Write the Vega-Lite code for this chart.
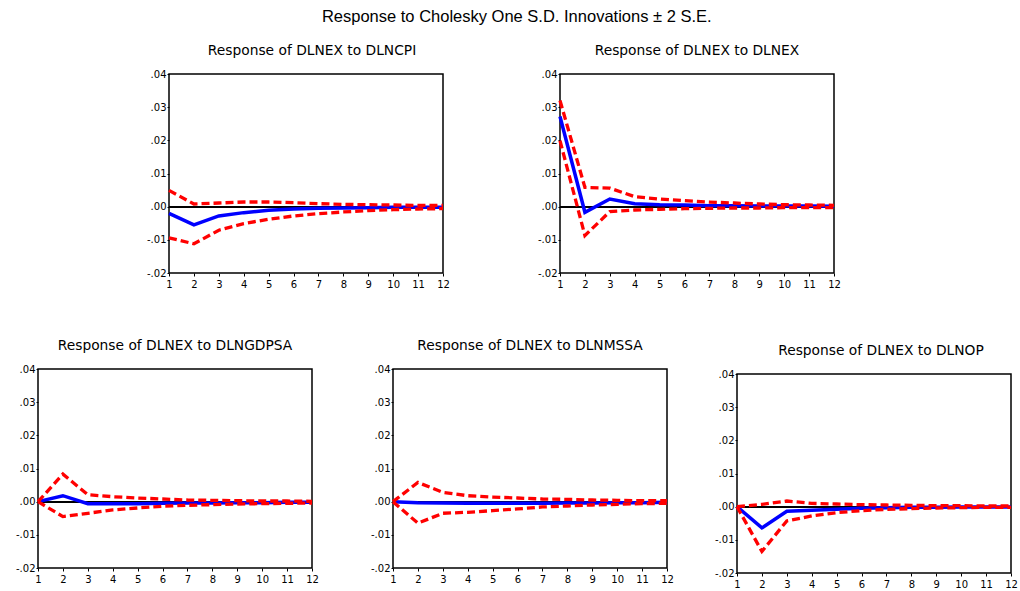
{
  "$schema": "https://vega.github.io/schema/vega-lite/v6.json",
  "background": "white",
  "padding": {"left": 14, "top": 8, "right": 5, "bottom": 5},
  "title": {"text": "Response to Cholesky One S.D. Innovations ± 2 S.E.", "font": "Liberation Sans", "fontSize": 16.5, "fontWeight": "normal", "color": "black", "anchor": "middle", "offset": 18},
  "config": {
    "font": "DejaVu Sans",
    "view": {"stroke": "black", "strokeWidth": 1.5},
    "title": {"font": "DejaVu Sans", "fontSize": 13.8, "fontWeight": "normal", "color": "black", "offset": 11},
    "axis": {"grid": false, "title": null, "labelFont": "DejaVu Sans", "labelFontSize": 10, "labelColor": "black", "tickColor": "black", "domain": false, "tickSize": 3, "labelOverlap": false, "labelFlush": false, "labelBound": false, "labelSeparation": 0}
  },
  "datasets": {
    "irf": [
      {"panel": "DLNCPI", "h": 1, "series": "resp", "value": -0.0020},
      {"panel": "DLNCPI", "h": 2, "series": "resp", "value": -0.0055},
      {"panel": "DLNCPI", "h": 3, "series": "resp", "value": -0.0028},
      {"panel": "DLNCPI", "h": 4, "series": "resp", "value": -0.0018},
      {"panel": "DLNCPI", "h": 5, "series": "resp", "value": -0.0011},
      {"panel": "DLNCPI", "h": 6, "series": "resp", "value": -0.0007},
      {"panel": "DLNCPI", "h": 7, "series": "resp", "value": -0.0005},
      {"panel": "DLNCPI", "h": 8, "series": "resp", "value": -0.0004},
      {"panel": "DLNCPI", "h": 9, "series": "resp", "value": -0.0003},
      {"panel": "DLNCPI", "h": 10, "series": "resp", "value": -0.0002},
      {"panel": "DLNCPI", "h": 11, "series": "resp", "value": -0.0002},
      {"panel": "DLNCPI", "h": 12, "series": "resp", "value": -0.0002},
      {"panel": "DLNCPI", "h": 1, "series": "upper", "value": 0.0049},
      {"panel": "DLNCPI", "h": 2, "series": "upper", "value": 0.0008},
      {"panel": "DLNCPI", "h": 3, "series": "upper", "value": 0.0011},
      {"panel": "DLNCPI", "h": 4, "series": "upper", "value": 0.0014},
      {"panel": "DLNCPI", "h": 5, "series": "upper", "value": 0.0014},
      {"panel": "DLNCPI", "h": 6, "series": "upper", "value": 0.0012},
      {"panel": "DLNCPI", "h": 7, "series": "upper", "value": 0.0009},
      {"panel": "DLNCPI", "h": 8, "series": "upper", "value": 0.0007},
      {"panel": "DLNCPI", "h": 9, "series": "upper", "value": 0.0006},
      {"panel": "DLNCPI", "h": 10, "series": "upper", "value": 0.0005},
      {"panel": "DLNCPI", "h": 11, "series": "upper", "value": 0.0004},
      {"panel": "DLNCPI", "h": 12, "series": "upper", "value": 0.0004},
      {"panel": "DLNCPI", "h": 1, "series": "lower", "value": -0.0094},
      {"panel": "DLNCPI", "h": 2, "series": "lower", "value": -0.0112},
      {"panel": "DLNCPI", "h": 3, "series": "lower", "value": -0.0071},
      {"panel": "DLNCPI", "h": 4, "series": "lower", "value": -0.0051},
      {"panel": "DLNCPI", "h": 5, "series": "lower", "value": -0.0038},
      {"panel": "DLNCPI", "h": 6, "series": "lower", "value": -0.0028},
      {"panel": "DLNCPI", "h": 7, "series": "lower", "value": -0.0021},
      {"panel": "DLNCPI", "h": 8, "series": "lower", "value": -0.0016},
      {"panel": "DLNCPI", "h": 9, "series": "lower", "value": -0.0012},
      {"panel": "DLNCPI", "h": 10, "series": "lower", "value": -0.0009},
      {"panel": "DLNCPI", "h": 11, "series": "lower", "value": -0.0007},
      {"panel": "DLNCPI", "h": 12, "series": "lower", "value": -0.0006},

      {"panel": "DLNEX", "h": 1, "series": "resp", "value": 0.0272},
      {"panel": "DLNEX", "h": 2, "series": "resp", "value": -0.0017},
      {"panel": "DLNEX", "h": 3, "series": "resp", "value": 0.0023},
      {"panel": "DLNEX", "h": 4, "series": "resp", "value": 0.0009},
      {"panel": "DLNEX", "h": 5, "series": "resp", "value": 0.0006},
      {"panel": "DLNEX", "h": 6, "series": "resp", "value": 0.0005},
      {"panel": "DLNEX", "h": 7, "series": "resp", "value": 0.0003},
      {"panel": "DLNEX", "h": 8, "series": "resp", "value": 0.0003},
      {"panel": "DLNEX", "h": 9, "series": "resp", "value": 0.0002},
      {"panel": "DLNEX", "h": 10, "series": "resp", "value": 0.0002},
      {"panel": "DLNEX", "h": 11, "series": "resp", "value": 0.0002},
      {"panel": "DLNEX", "h": 12, "series": "resp", "value": 0.0001},
      {"panel": "DLNEX", "h": 1, "series": "upper", "value": 0.0320},
      {"panel": "DLNEX", "h": 2, "series": "upper", "value": 0.0058},
      {"panel": "DLNEX", "h": 3, "series": "upper", "value": 0.0056},
      {"panel": "DLNEX", "h": 4, "series": "upper", "value": 0.0030},
      {"panel": "DLNEX", "h": 5, "series": "upper", "value": 0.0023},
      {"panel": "DLNEX", "h": 6, "series": "upper", "value": 0.0018},
      {"panel": "DLNEX", "h": 7, "series": "upper", "value": 0.0014},
      {"panel": "DLNEX", "h": 8, "series": "upper", "value": 0.0011},
      {"panel": "DLNEX", "h": 9, "series": "upper", "value": 0.0008},
      {"panel": "DLNEX", "h": 10, "series": "upper", "value": 0.0006},
      {"panel": "DLNEX", "h": 11, "series": "upper", "value": 0.0005},
      {"panel": "DLNEX", "h": 12, "series": "upper", "value": 0.0004},
      {"panel": "DLNEX", "h": 1, "series": "lower", "value": 0.0199},
      {"panel": "DLNEX", "h": 2, "series": "lower", "value": -0.0087},
      {"panel": "DLNEX", "h": 3, "series": "lower", "value": -0.0015},
      {"panel": "DLNEX", "h": 4, "series": "lower", "value": -0.0010},
      {"panel": "DLNEX", "h": 5, "series": "lower", "value": -0.0008},
      {"panel": "DLNEX", "h": 6, "series": "lower", "value": -0.0006},
      {"panel": "DLNEX", "h": 7, "series": "lower", "value": -0.0005},
      {"panel": "DLNEX", "h": 8, "series": "lower", "value": -0.0004},
      {"panel": "DLNEX", "h": 9, "series": "lower", "value": -0.0004},
      {"panel": "DLNEX", "h": 10, "series": "lower", "value": -0.0003},
      {"panel": "DLNEX", "h": 11, "series": "lower", "value": -0.0003},
      {"panel": "DLNEX", "h": 12, "series": "lower", "value": -0.0003},

      {"panel": "DLNGDPSA", "h": 1, "series": "resp", "value": 0.0},
      {"panel": "DLNGDPSA", "h": 2, "series": "resp", "value": 0.0018},
      {"panel": "DLNGDPSA", "h": 3, "series": "resp", "value": -0.0006},
      {"panel": "DLNGDPSA", "h": 4, "series": "resp", "value": -0.0006},
      {"panel": "DLNGDPSA", "h": 5, "series": "resp", "value": -0.0006},
      {"panel": "DLNGDPSA", "h": 6, "series": "resp", "value": -0.0005},
      {"panel": "DLNGDPSA", "h": 7, "series": "resp", "value": -0.0004},
      {"panel": "DLNGDPSA", "h": 8, "series": "resp", "value": -0.0004},
      {"panel": "DLNGDPSA", "h": 9, "series": "resp", "value": -0.0003},
      {"panel": "DLNGDPSA", "h": 10, "series": "resp", "value": -0.0003},
      {"panel": "DLNGDPSA", "h": 11, "series": "resp", "value": -0.0002},
      {"panel": "DLNGDPSA", "h": 12, "series": "resp", "value": -0.0002},
      {"panel": "DLNGDPSA", "h": 1, "series": "upper", "value": 0.0},
      {"panel": "DLNGDPSA", "h": 2, "series": "upper", "value": 0.0083},
      {"panel": "DLNGDPSA", "h": 3, "series": "upper", "value": 0.0021},
      {"panel": "DLNGDPSA", "h": 4, "series": "upper", "value": 0.0015},
      {"panel": "DLNGDPSA", "h": 5, "series": "upper", "value": 0.0011},
      {"panel": "DLNGDPSA", "h": 6, "series": "upper", "value": 0.0008},
      {"panel": "DLNGDPSA", "h": 7, "series": "upper", "value": 0.0005},
      {"panel": "DLNGDPSA", "h": 8, "series": "upper", "value": 0.0004},
      {"panel": "DLNGDPSA", "h": 9, "series": "upper", "value": 0.0003},
      {"panel": "DLNGDPSA", "h": 10, "series": "upper", "value": 0.0002},
      {"panel": "DLNGDPSA", "h": 11, "series": "upper", "value": 0.0002},
      {"panel": "DLNGDPSA", "h": 12, "series": "upper", "value": 0.0001},
      {"panel": "DLNGDPSA", "h": 1, "series": "lower", "value": 0.0},
      {"panel": "DLNGDPSA", "h": 2, "series": "lower", "value": -0.0045},
      {"panel": "DLNGDPSA", "h": 3, "series": "lower", "value": -0.0035},
      {"panel": "DLNGDPSA", "h": 4, "series": "lower", "value": -0.0025},
      {"panel": "DLNGDPSA", "h": 5, "series": "lower", "value": -0.0019},
      {"panel": "DLNGDPSA", "h": 6, "series": "lower", "value": -0.0014},
      {"panel": "DLNGDPSA", "h": 7, "series": "lower", "value": -0.0011},
      {"panel": "DLNGDPSA", "h": 8, "series": "lower", "value": -0.0009},
      {"panel": "DLNGDPSA", "h": 9, "series": "lower", "value": -0.0007},
      {"panel": "DLNGDPSA", "h": 10, "series": "lower", "value": -0.0006},
      {"panel": "DLNGDPSA", "h": 11, "series": "lower", "value": -0.0005},
      {"panel": "DLNGDPSA", "h": 12, "series": "lower", "value": -0.0004},

      {"panel": "DLNMSSA", "h": 1, "series": "resp", "value": 0.0},
      {"panel": "DLNMSSA", "h": 2, "series": "resp", "value": -0.0003},
      {"panel": "DLNMSSA", "h": 3, "series": "resp", "value": -0.0004},
      {"panel": "DLNMSSA", "h": 4, "series": "resp", "value": -0.0005},
      {"panel": "DLNMSSA", "h": 5, "series": "resp", "value": -0.0005},
      {"panel": "DLNMSSA", "h": 6, "series": "resp", "value": -0.0005},
      {"panel": "DLNMSSA", "h": 7, "series": "resp", "value": -0.0005},
      {"panel": "DLNMSSA", "h": 8, "series": "resp", "value": -0.0004},
      {"panel": "DLNMSSA", "h": 9, "series": "resp", "value": -0.0004},
      {"panel": "DLNMSSA", "h": 10, "series": "resp", "value": -0.0003},
      {"panel": "DLNMSSA", "h": 11, "series": "resp", "value": -0.0003},
      {"panel": "DLNMSSA", "h": 12, "series": "resp", "value": -0.0002},
      {"panel": "DLNMSSA", "h": 1, "series": "upper", "value": 0.0},
      {"panel": "DLNMSSA", "h": 2, "series": "upper", "value": 0.0058},
      {"panel": "DLNMSSA", "h": 3, "series": "upper", "value": 0.0028},
      {"panel": "DLNMSSA", "h": 4, "series": "upper", "value": 0.0018},
      {"panel": "DLNMSSA", "h": 5, "series": "upper", "value": 0.0014},
      {"panel": "DLNMSSA", "h": 6, "series": "upper", "value": 0.0011},
      {"panel": "DLNMSSA", "h": 7, "series": "upper", "value": 0.0008},
      {"panel": "DLNMSSA", "h": 8, "series": "upper", "value": 0.0007},
      {"panel": "DLNMSSA", "h": 9, "series": "upper", "value": 0.0005},
      {"panel": "DLNMSSA", "h": 10, "series": "upper", "value": 0.0004},
      {"panel": "DLNMSSA", "h": 11, "series": "upper", "value": 0.0003},
      {"panel": "DLNMSSA", "h": 12, "series": "upper", "value": 0.0003},
      {"panel": "DLNMSSA", "h": 1, "series": "lower", "value": 0.0},
      {"panel": "DLNMSSA", "h": 2, "series": "lower", "value": -0.0065},
      {"panel": "DLNMSSA", "h": 3, "series": "lower", "value": -0.0035},
      {"panel": "DLNMSSA", "h": 4, "series": "lower", "value": -0.0032},
      {"panel": "DLNMSSA", "h": 5, "series": "lower", "value": -0.0027},
      {"panel": "DLNMSSA", "h": 6, "series": "lower", "value": -0.0022},
      {"panel": "DLNMSSA", "h": 7, "series": "lower", "value": -0.0016},
      {"panel": "DLNMSSA", "h": 8, "series": "lower", "value": -0.0013},
      {"panel": "DLNMSSA", "h": 9, "series": "lower", "value": -0.0010},
      {"panel": "DLNMSSA", "h": 10, "series": "lower", "value": -0.0008},
      {"panel": "DLNMSSA", "h": 11, "series": "lower", "value": -0.0006},
      {"panel": "DLNMSSA", "h": 12, "series": "lower", "value": -0.0005},

      {"panel": "DLNOP", "h": 1, "series": "resp", "value": 0.0},
      {"panel": "DLNOP", "h": 2, "series": "resp", "value": -0.0064},
      {"panel": "DLNOP", "h": 3, "series": "resp", "value": -0.0014},
      {"panel": "DLNOP", "h": 4, "series": "resp", "value": -0.0011},
      {"panel": "DLNOP", "h": 5, "series": "resp", "value": -0.0008},
      {"panel": "DLNOP", "h": 6, "series": "resp", "value": -0.0005},
      {"panel": "DLNOP", "h": 7, "series": "resp", "value": -0.0003},
      {"panel": "DLNOP", "h": 8, "series": "resp", "value": -0.0002},
      {"panel": "DLNOP", "h": 9, "series": "resp", "value": -0.0002},
      {"panel": "DLNOP", "h": 10, "series": "resp", "value": -0.0001},
      {"panel": "DLNOP", "h": 11, "series": "resp", "value": -0.0001},
      {"panel": "DLNOP", "h": 12, "series": "resp", "value": -0.0001},
      {"panel": "DLNOP", "h": 1, "series": "upper", "value": 0.0},
      {"panel": "DLNOP", "h": 2, "series": "upper", "value": 0.0007},
      {"panel": "DLNOP", "h": 3, "series": "upper", "value": 0.0017},
      {"panel": "DLNOP", "h": 4, "series": "upper", "value": 0.0010},
      {"panel": "DLNOP", "h": 5, "series": "upper", "value": 0.0008},
      {"panel": "DLNOP", "h": 6, "series": "upper", "value": 0.0006},
      {"panel": "DLNOP", "h": 7, "series": "upper", "value": 0.0005},
      {"panel": "DLNOP", "h": 8, "series": "upper", "value": 0.0004},
      {"panel": "DLNOP", "h": 9, "series": "upper", "value": 0.0003},
      {"panel": "DLNOP", "h": 10, "series": "upper", "value": 0.0003},
      {"panel": "DLNOP", "h": 11, "series": "upper", "value": 0.0002},
      {"panel": "DLNOP", "h": 12, "series": "upper", "value": 0.0002},
      {"panel": "DLNOP", "h": 1, "series": "lower", "value": 0.0},
      {"panel": "DLNOP", "h": 2, "series": "lower", "value": -0.0135},
      {"panel": "DLNOP", "h": 3, "series": "lower", "value": -0.0043},
      {"panel": "DLNOP", "h": 4, "series": "lower", "value": -0.0028},
      {"panel": "DLNOP", "h": 5, "series": "lower", "value": -0.0018},
      {"panel": "DLNOP", "h": 6, "series": "lower", "value": -0.0012},
      {"panel": "DLNOP", "h": 7, "series": "lower", "value": -0.0008},
      {"panel": "DLNOP", "h": 8, "series": "lower", "value": -0.0006},
      {"panel": "DLNOP", "h": 9, "series": "lower", "value": -0.0004},
      {"panel": "DLNOP", "h": 10, "series": "lower", "value": -0.0003},
      {"panel": "DLNOP", "h": 11, "series": "lower", "value": -0.0002},
      {"panel": "DLNOP", "h": 12, "series": "lower", "value": -0.0002}
    ]
  },
  "spacing": 48,
  "vconcat": [
    {
      "bounds": "flush",
      "spacing": 117,
      "hconcat": [
        {"width": 14, "height": 199, "view": {"stroke": null}, "data": {"values": [{}]}, "mark": {"type": "point", "opacity": 0}, "encoding": {}},
        {
          "width": 274, "height": 199,
          "title": {"text": "Response of DLNEX to DLNCPI", "dx": 6},
          "data": {"name": "irf"},
          "transform": [{"filter": "datum.panel === 'DLNCPI'"}],
          "encoding": {
            "x": {"field": "h", "type": "quantitative", "scale": {"domain": [1, 12], "nice": false}, "axis": {"values": [1, 2, 3, 4, 5, 6, 7, 8, 9, 10, 11, 12], "format": "d", "labelOverlap": false, "labelPadding": 3}},
            "y": {"field": "value", "type": "quantitative", "scale": {"domain": [-0.02, 0.04], "nice": false}, "axis": {"values": [-0.02, -0.01, 0, 0.01, 0.02, 0.03, 0.04], "labelOverlap": false, "labelPadding": 1, "tickSize": 2, "labelExpr": "(datum.value < 0 ? '-' : '') + replace(format(abs(datum.value), '.2f'), '0.', '.')"}}
          },
          "layer": [
            {"mark": {"type": "rule", "color": "black", "strokeWidth": 0.8}, "encoding": {"x": {"datum": 1}, "x2": {"datum": 12}, "y": {"datum": 0}}},
            {"transform": [{"filter": "datum.series === 'resp'"}], "mark": {"type": "line", "color": "#0000ff", "strokeWidth": 3.5}},
            {"transform": [{"filter": "datum.series !== 'resp'"}], "mark": {"type": "line", "color": "#ff0000", "strokeWidth": 3.3, "strokeDash": [8, 4]}, "encoding": {"detail": {"field": "series"}}}
          ]
        },
        {
          "width": 274, "height": 199,
          "title": "Response of DLNEX to DLNEX",
          "data": {"name": "irf"},
          "transform": [{"filter": "datum.panel === 'DLNEX'"}],
          "encoding": {
            "x": {"field": "h", "type": "quantitative", "scale": {"domain": [1, 12], "nice": false}, "axis": {"values": [1, 2, 3, 4, 5, 6, 7, 8, 9, 10, 11, 12], "format": "d", "labelOverlap": false, "labelPadding": 3}},
            "y": {"field": "value", "type": "quantitative", "scale": {"domain": [-0.02, 0.04], "nice": false}, "axis": {"values": [-0.02, -0.01, 0, 0.01, 0.02, 0.03, 0.04], "labelOverlap": false, "labelPadding": 1, "tickSize": 2, "labelExpr": "(datum.value < 0 ? '-' : '') + replace(format(abs(datum.value), '.2f'), '0.', '.')"}}
          },
          "layer": [
            {"mark": {"type": "rule", "color": "black", "strokeWidth": 0.8}, "encoding": {"x": {"datum": 1}, "x2": {"datum": 12}, "y": {"datum": 0}}},
            {"transform": [{"filter": "datum.series === 'resp'"}], "mark": {"type": "line", "color": "#0000ff", "strokeWidth": 3.5}},
            {"transform": [{"filter": "datum.series !== 'resp'"}], "mark": {"type": "line", "color": "#ff0000", "strokeWidth": 3.3, "strokeDash": [8, 4]}, "encoding": {"detail": {"field": "series"}}}
          ]
        }
      ]
    },
    {
      "bounds": "flush",
      "spacing": 81,
      "hconcat": [
        {
          "width": 274, "height": 199,
          "title": "Response of DLNEX to DLNGDPSA",
          "data": {"name": "irf"},
          "transform": [{"filter": "datum.panel === 'DLNGDPSA'"}],
          "encoding": {
            "x": {"field": "h", "type": "quantitative", "scale": {"domain": [1, 12], "nice": false}, "axis": {"values": [1, 2, 3, 4, 5, 6, 7, 8, 9, 10, 11, 12], "format": "d", "labelOverlap": false, "labelPadding": 3}},
            "y": {"field": "value", "type": "quantitative", "scale": {"domain": [-0.02, 0.04], "nice": false}, "axis": {"values": [-0.02, -0.01, 0, 0.01, 0.02, 0.03, 0.04], "labelOverlap": false, "labelPadding": 1, "tickSize": 2, "labelExpr": "(datum.value < 0 ? '-' : '') + replace(format(abs(datum.value), '.2f'), '0.', '.')"}}
          },
          "layer": [
            {"mark": {"type": "rule", "color": "black", "strokeWidth": 0.8}, "encoding": {"x": {"datum": 1}, "x2": {"datum": 12}, "y": {"datum": 0}}},
            {"transform": [{"filter": "datum.series === 'resp'"}], "mark": {"type": "line", "color": "#0000ff", "strokeWidth": 3.5}},
            {"transform": [{"filter": "datum.series !== 'resp'"}], "mark": {"type": "line", "color": "#ff0000", "strokeWidth": 3.3, "strokeDash": [8, 4]}, "encoding": {"detail": {"field": "series"}}}
          ]
        },
        {
          "bounds": "flush",
          "spacing": 70,
          "hconcat": [
            {
              "width": 274, "height": 199,
              "title": "Response of DLNEX to DLNMSSA",
              "data": {"name": "irf"},
              "transform": [{"filter": "datum.panel === 'DLNMSSA'"}],
              "encoding": {
                "x": {"field": "h", "type": "quantitative", "scale": {"domain": [1, 12], "nice": false}, "axis": {"values": [1, 2, 3, 4, 5, 6, 7, 8, 9, 10, 11, 12], "format": "d", "labelOverlap": false, "labelPadding": 3}},
                "y": {"field": "value", "type": "quantitative", "scale": {"domain": [-0.02, 0.04], "nice": false}, "axis": {"values": [-0.02, -0.01, 0, 0.01, 0.02, 0.03, 0.04], "labelOverlap": false, "labelPadding": 1, "tickSize": 2, "labelExpr": "(datum.value < 0 ? '-' : '') + replace(format(abs(datum.value), '.2f'), '0.', '.')"}}
              },
              "layer": [
                {"mark": {"type": "rule", "color": "black", "strokeWidth": 0.8}, "encoding": {"x": {"datum": 1}, "x2": {"datum": 12}, "y": {"datum": 0}}},
                {"transform": [{"filter": "datum.series === 'resp'"}], "mark": {"type": "line", "color": "#0000ff", "strokeWidth": 3.5}},
                {"transform": [{"filter": "datum.series !== 'resp'"}], "mark": {"type": "line", "color": "#ff0000", "strokeWidth": 3.3, "strokeDash": [8, 4]}, "encoding": {"detail": {"field": "series"}}}
              ]
            },
            {
              "bounds": "flush",
              "spacing": 4,
              "vconcat": [
                {"width": 274, "height": 1, "view": {"stroke": null}, "data": {"values": [{}]}, "mark": {"type": "point", "opacity": 0}, "encoding": {}},
                {
                  "width": 274, "height": 199,
                  "title": {"text": "Response of DLNEX to DLNOP", "dx": 7},
                  "data": {"name": "irf"},
                  "transform": [{"filter": "datum.panel === 'DLNOP'"}],
                  "encoding": {
                    "x": {"field": "h", "type": "quantitative", "scale": {"domain": [1, 12], "nice": false}, "axis": {"values": [1, 2, 3, 4, 5, 6, 7, 8, 9, 10, 11, 12], "format": "d", "labelOverlap": false, "labelPadding": 3}},
                    "y": {"field": "value", "type": "quantitative", "scale": {"domain": [-0.02, 0.04], "nice": false}, "axis": {"values": [-0.02, -0.01, 0, 0.01, 0.02, 0.03, 0.04], "labelOverlap": false, "labelPadding": 1, "tickSize": 2, "labelExpr": "(datum.value < 0 ? '-' : '') + replace(format(abs(datum.value), '.2f'), '0.', '.')"}}
                  },
                  "layer": [
                    {"mark": {"type": "rule", "color": "black", "strokeWidth": 0.8}, "encoding": {"x": {"datum": 1}, "x2": {"datum": 12}, "y": {"datum": 0}}},
                    {"transform": [{"filter": "datum.series === 'resp'"}], "mark": {"type": "line", "color": "#0000ff", "strokeWidth": 3.5}},
                    {"transform": [{"filter": "datum.series !== 'resp'"}], "mark": {"type": "line", "color": "#ff0000", "strokeWidth": 3.3, "strokeDash": [8, 4]}, "encoding": {"detail": {"field": "series"}}}
                  ]
                }
              ]
            }
          ]
        }
      ]
    }
  ]
}
